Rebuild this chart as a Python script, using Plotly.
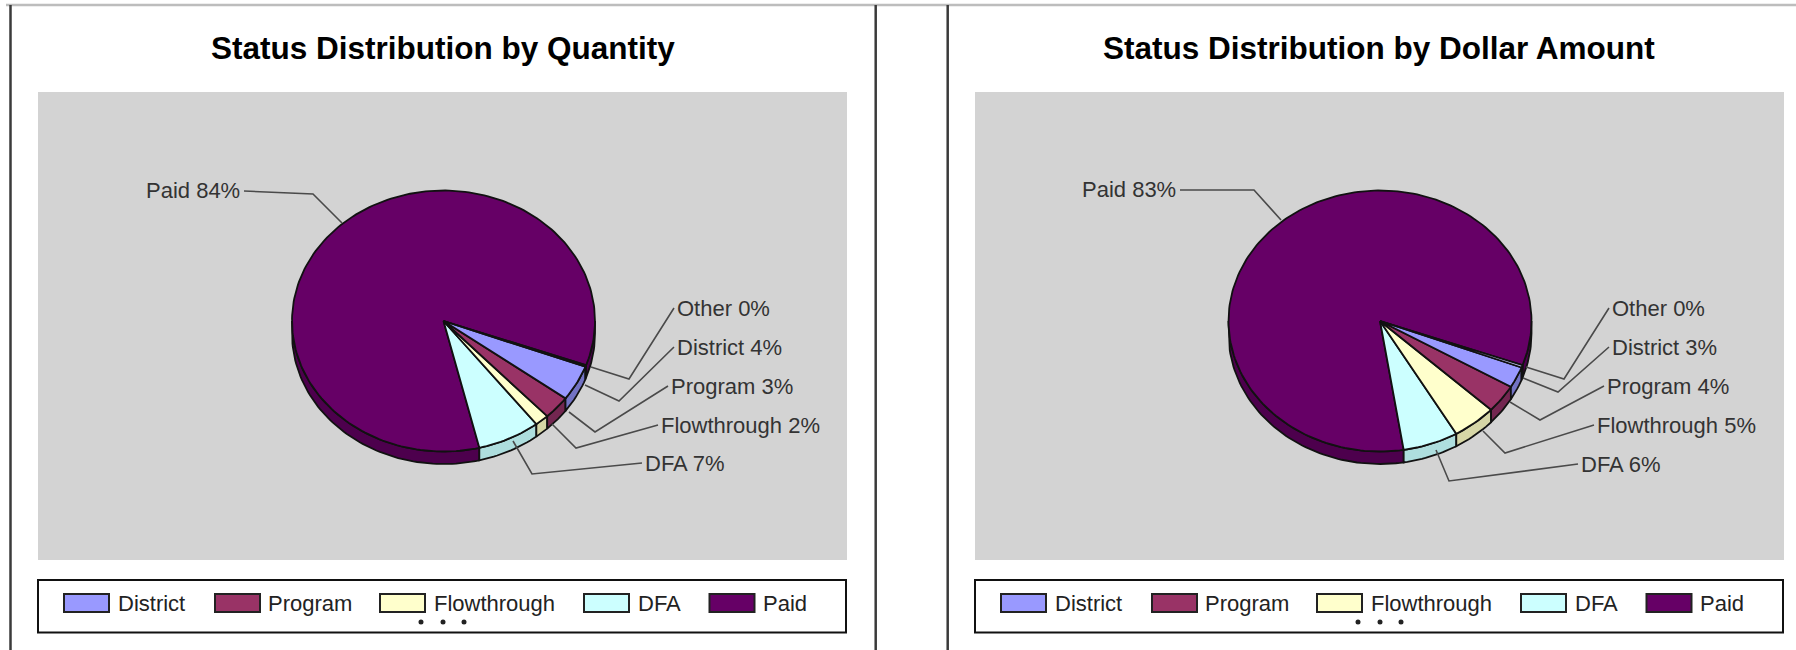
import math
import plotly.graph_objects as go

CATEGORIES = ["Other", "District", "Program", "Flowthrough", "DFA", "Paid"]
QTY_VALUES = [0.2, 4.4, 2.9, 1.5, 6.7, 84.3]
DOLLAR_VALUES = [0.3, 2.6, 3.5, 4.7, 5.9, 83.0]
TITLES = ["Status Distribution by Quantity", "Status Distribution by Dollar Amount"]
LEGEND_NAMES = ["District", "Program", "Flowthrough", "DFA", "Paid"]

COLORS = {"Other": "#CCCCFF", "District": "#9999FF", "Program": "#993366",
          "Flowthrough": "#FFFFCC", "DFA": "#CCFFFF", "Paid": "#660066"}
SIDE = {"Other": "#A0A0CC", "District": "#7373C4", "Program": "#732650",
        "Flowthrough": "#D6D6A6", "DFA": "#AEDEDE", "Paid": "#4D004D"}
GREY = "#D3D3D3"
W, H = 1796, 650
OFF = 937
PANEL = (38, 847, 92, 560)
CX, CY, RX, RY, DEPTH = 443.5, 321, 151.5, 130.5, 12.5
START = 109.8

# label anchor (x, y), elbow, slice end, per chart, in panel pixels
LEADERS = [
    {"Other": ((674, 308), (629, 379), (591, 367)),
     "District": ((674, 347), (619, 401), (585, 385)),
     "Program": ((668, 386), (595, 432), (569, 412)),
     "Flowthrough": ((658, 425), (576, 448), (552, 424)),
     "DFA": ((642, 463), (532, 474), (513, 441)),
     "Paid": ((244, 191), (313, 194), (342, 223))},
    {"Other": ((1609, 308), (1564, 379), (1526, 367)),
     "District": ((1609, 347), (1558, 392), (1523, 378)),
     "Program": ((1604, 386), (1540, 420), (1510, 402)),
     "Flowthrough": ((1594, 425), (1505, 453), (1483, 431)),
     "DFA": ((1578, 464), (1449, 481), (1436, 450)),
     "Paid": ((1180, 190), (1254, 190), (1281, 220))},
]
LEG_SWATCH_X = [64, 215, 380, 584, 709.5]
LEG_TEXT_X = [116, 265.5, 431.5, 636, 760.5]


def pt(cx, a, dy=0):
    r = math.radians(a)
    return cx + RX * math.sin(r), CY - RY * math.cos(r) + dy


def arc(cx, a0, a1, dy=0):
    n = max(2, int(abs(a1 - a0) / 1.5) + 2)
    return [pt(cx, a0 + (a1 - a0) * i / (n - 1), dy) for i in range(n)]


fig = go.Figure()
shapes, annots = [], []
LINE = dict(color="#111111", width=1.8)


def poly(points, color, name, xa, ya, line=LINE, hover=None):
    xs = [p[0] for p in points] + [points[0][0]]
    ys = [p[1] for p in points] + [points[0][1]]
    fig.add_trace(go.Scatter(x=xs, y=ys, fill="toself", fillcolor=color, mode="lines",
                             line=line, name=name, showlegend=False, xaxis=xa, yaxis=ya,
                             hoverinfo="text", text=hover or name))


for k, values in enumerate([QTY_VALUES, DOLLAR_VALUES]):
    dx = OFF * k
    cx = CX + (k * 936.5)
    xa, ya = ("x", "y") if k == 0 else ("x2", "y2")
    total = sum(values)
    spans, a = [], START
    for cat, v in zip(CATEGORIES, values):
        b = a + v / total * 360
        spans.append((cat, v, a, b))
        a = b
    # sides: Paid first, then the others
    for cat, v, a0, b0 in reversed(spans):
        for lo, hi in ((90, 270), (450, 630)):
            s, e = max(a0, lo), min(b0, hi)
            if e > s:
                top = arc(cx, s, e)
                bot = arc(cx, e, s, DEPTH)
                poly(top + bot, SIDE[cat], cat, xa, ya, hover=f"{cat} {v}%")
    # top faces
    for cat, v, a0, b0 in spans[::-1]:
        poly([(cx, CY)] + arc(cx, a0, b0), COLORS[cat], cat, xa, ya, hover=f"{cat} {v}%")
    # leaders and labels
    for cat, v in zip(CATEGORIES, values):
        lab, elbow, end = LEADERS[k][cat]
        fig.add_trace(go.Scatter(x=[lab[0], elbow[0], end[0]], y=[lab[1], elbow[1], end[1]],
                                 mode="lines", line=dict(color="#4A4A4A", width=1.6),
                                 showlegend=False, hoverinfo="skip", xaxis=xa, yaxis=ya))
        right = cat == "Paid"
        annots.append(dict(x=lab[0] + (-2 if right else 1), y=lab[1], xref=xa, yref=ya,
                           text=f"{cat} {round(v)}%", showarrow=False,
                           xanchor="right" if right else "left", yanchor="middle",
                           font=dict(family="Liberation Sans", size=22, color="#333333")))
    # title
    annots.append(dict(x=(443 + 936 * k) / W, y=1 - 48 / H, xref="paper", yref="paper",
                       text=f"<b>{TITLES[k]}</b>", showarrow=False, xanchor="center",
                       yanchor="middle", font=dict(family="Liberation Sans", size=31.5, color="#000000")))
    # legend box
    shapes.append(dict(type="rect", xref="paper", yref="paper",
                       x0=(38 + dx) / W, x1=(848 + dx - 2) / W, y0=1 - 580 / H, y1=1 - 632.5 / H,
                       line=dict(color="#111111", width=2), fillcolor="white"))
    for name, sx, tx in zip(LEGEND_NAMES, LEG_SWATCH_X, LEG_TEXT_X):
        shapes.append(dict(type="rect", xref="paper", yref="paper",
                           x0=(sx + dx) / W, x1=(sx + 45 + dx) / W, y0=1 - 594 / H, y1=1 - 612 / H,
                           line=dict(color="#222222", width=2), fillcolor=COLORS[name]))
        annots.append(dict(x=(tx + dx) / W, y=1 - 603 / H, xref="paper", yref="paper",
                           text=name, showarrow=False, xanchor="left", yanchor="middle",
                           font=dict(family="Liberation Sans", size=22, color="#222222")))
    # the three "more entries" dots
    for d in (421, 443, 464):
        shapes.append(dict(type="circle", xref="paper", yref="paper",
                           x0=(d - 2.5 + dx) / W, x1=(d + 2.5 + dx) / W, y0=1 - 619.5 / H, y1=1 - 624.5 / H,
                           line=dict(width=0), fillcolor="#222222"))

# frame lines
shapes = [dict(type="line", xref="paper", yref="paper", x0=6 / W, x1=1, y0=1 - 5 / H, y1=1 - 5 / H,
               line=dict(color="#BDBDBD", width=2.5))] + shapes
for x in (10.5, 875.7, 947.7):
    shapes.append(dict(type="line", xref="paper", yref="paper", x0=x / W, x1=x / W, y0=0, y1=1 - 5 / H,
                       line=dict(color="#3A3A3A", width=2.5)))


def axis(lo, hi, size, anchor):
    return dict(domain=[lo / size, hi / size], visible=False, fixedrange=True, anchor=anchor)


x0, x1, y0, y1 = PANEL
layout = dict(
    width=W, height=H, margin=dict(l=0, r=0, t=0, b=0), paper_bgcolor="white",
    plot_bgcolor=GREY, showlegend=False, shapes=shapes, annotations=annots,
    xaxis=dict(axis(x0, x1, W, "y"), range=[x0, x1]),
    yaxis=dict(domain=[1 - y1 / H, 1 - y0 / H], range=[y1, y0], visible=False, fixedrange=True, anchor="x"),
    xaxis2=dict(axis(x0 + OFF, x1 + OFF, W, "y2"), range=[x0 + OFF, x1 + OFF]),
    yaxis2=dict(domain=[1 - y1 / H, 1 - y0 / H], range=[y1, y0], visible=False, fixedrange=True, anchor="x2"),
)
fig.update_layout(**layout)
fig.write_html("out.html", config={"displayModeBar": False},
               post_script="document.body.style.margin='0';document.body.style.overflow='hidden';")
